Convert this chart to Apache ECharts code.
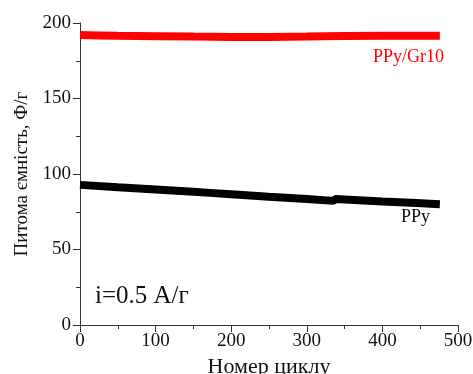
<!DOCTYPE html>
<html>
<head>
<meta charset="utf-8">
<script src="https://cdn.jsdelivr.net/npm/echarts@6/dist/echarts.min.js"></script>
<style>
  html, body { margin: 0; padding: 0; background: #fff; }
  #chart { width: 473px; height: 374px; }
</style>
</head>
<body>
<div id="chart"></div>
<script>
// cycle number -> specific capacitance
const ppyGrCycles = [0, 25, 50, 100, 150, 200, 250, 300, 350, 400, 450, 476];
const ppyGrValues = [192, 191.8, 191.6, 191.3, 191, 190.8, 190.7, 191, 191.4, 191.5, 191.5, 191.6];

const ppyCycles = [0, 50, 100, 150, 172, 200, 250, 300, 335, 338, 375, 400, 445, 447, 476];
const ppyValues = [92.8, 91.2, 89.8, 88.2, 87.5, 86.6, 85, 83.5, 82.2, 83.4, 82.5, 81.8, 80.8, 80.2, 80];

const xTicks = [0, 100, 200, 300, 400, 500];
const yTicks = [0, 50, 100, 150, 200];

const font = "'Liberation Serif', 'Times New Roman', serif";

const toPairs = (xs, ys) => xs.map((x, i) => [x, ys[i]]);

const chart = echarts.init(document.getElementById("chart"), null, { renderer: "canvas" });

const axisCommon = {
    type: "value",
    axisLine: { show: true, lineStyle: { color: "#333", width: 1 } },
    axisTick: { show: true, inside: false, length: 7, lineStyle: { color: "#333" } },
    minorTick: { show: true, splitNumber: 2, length: 4, lineStyle: { color: "#333" } },
    splitLine: { show: false },
    axisLabel: { color: "#111", fontFamily: font, fontSize: 19 },
    nameTextStyle: { color: "#111", fontFamily: font, fontSize: 21 },
    nameLocation: "middle",
};

chart.setOption({
    animation: false,
    grid: { left: 80, right: 15, top: 23, bottom: 49, outerBoundsMode: "none" },
    xAxis: {
        ...axisCommon,
        min: xTicks[0],
        max: xTicks[xTicks.length - 1],
        interval: 100,
        name: "Номер циклу",
        nameGap: 27,
        nameTextStyle: { ...axisCommon.nameTextStyle, fontSize: 22 },
        axisLabel: { ...axisCommon.axisLabel, margin: 7 },
    },
    yAxis: {
        ...axisCommon,
        min: yTicks[0],
        max: yTicks[yTicks.length - 1],
        interval: 50,
        name: "Питома ємність, Ф/г",
        nameGap: 40,
        nameTextStyle: { ...axisCommon.nameTextStyle, fontSize: 19 },
        axisLabel: { ...axisCommon.axisLabel, margin: 9 },
    },
    series: [
        {
            name: "PPy/Gr10",
            type: "line",
            data: toPairs(ppyGrCycles, ppyGrValues),
            showSymbol: false,
            lineStyle: { color: "#ff0000", width: 8 },
        },
        {
            name: "PPy",
            type: "line",
            data: toPairs(ppyCycles, ppyValues),
            showSymbol: false,
            lineStyle: { color: "#000", width: 8 },
        },
    ],
    graphic: [
        {
            type: "text",
            left: 373,
            top: 48,
            style: { text: "PPy/Gr10", fill: "#ff0000", font: "18px " + font },
        },
        {
            type: "text",
            left: 401,
            top: 208,
            style: { text: "PPy", fill: "#111", font: "18px " + font },
        },
        {
            type: "text",
            left: 95,
            top: 284,
            style: { text: "i=0.5 А/г", fill: "#111", font: "25px " + font },
        },
    ],
});
</script>
</body>
</html>
